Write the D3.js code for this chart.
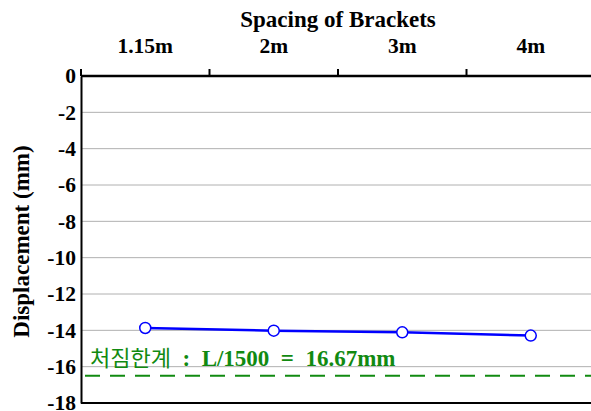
<!DOCTYPE html>
<html>
<head>
<meta charset="utf-8">
<script src="https://cdn.jsdelivr.net/npm/d3@7"></script>
<style>
  body { margin: 0; background: #fff; }
  svg text { font-family: "Liberation Serif", "Times New Roman", serif; font-weight: bold; }
</style>
</head>
<body>
<script>
// chart data
const categories = ['1.15m', '2m', '3m', '4m'];
const displacement = [-13.87, -14.02, -14.11, -14.29];
const yTicks = [0, -2, -4, -6, -8, -10, -12, -14, -16, -18];
const limitValue = -16.5;
const limitLabel = '처짐한계 : L/1500 = 16.67mm';

const width = 591;
const height = 411;
const margin = { top: 76, right: -4, bottom: 8, left: 81 };

const svg = d3.select('body').append('svg')
    .attr('width', width)
    .attr('height', height);

const x = d3.scaleBand()
    .domain(categories)
    .range([margin.left, width - margin.right]);

const y = d3.scaleLinear()
    .domain([0, -18])
    .range([margin.top, height - margin.bottom]);

// horizontal grid lines
svg.append('g')
    .selectAll('line')
    .data(yTicks.filter(d => d !== 0 && d !== -18))
    .enter().append('line')
    .attr('x1', margin.left)
    .attr('x2', width)
    .attr('y1', d => y(d))
    .attr('y2', d => y(d))
    .attr('stroke', '#b0b0b0')
    .attr('stroke-width', 1);

// left axis
const yAxis = svg.append('g')
    .attr('transform', `translate(${margin.left},0)`)
    .call(d3.axisLeft(y).tickValues(yTicks).tickSize(0).tickPadding(5).tickFormat(d => String(d)));
yAxis.select('.domain').attr('stroke', '#000').attr('stroke-width', 2);
yAxis.selectAll('text').attr('font-size', 21.5).attr('fill', '#000');

// bottom line
svg.append('line')
    .attr('x1', margin.left)
    .attr('x2', width)
    .attr('y1', y(-18))
    .attr('y2', y(-18))
    .attr('stroke', '#000')
    .attr('stroke-width', 2);

// top axis (labels at band centres, ticks at band edges)
const xAxis = svg.append('g')
    .attr('transform', `translate(0,${margin.top})`)
    .call(d3.axisTop(x).tickSize(0).tickPadding(23));
xAxis.select('.domain').remove();
xAxis.selectAll('text').attr('font-size', 21.5).attr('fill', '#000');

svg.append('line')
    .attr('x1', margin.left)
    .attr('x2', width)
    .attr('y1', y(0))
    .attr('y2', y(0))
    .attr('stroke', '#000')
    .attr('stroke-width', 2.5);

svg.append('g')
    .selectAll('line')
    .data(categories)
    .enter().append('line')
    .attr('x1', d => x(d))
    .attr('x2', d => x(d))
    .attr('y1', y(0))
    .attr('y2', y(0) - 7)
    .attr('stroke', '#000')
    .attr('stroke-width', 2);

// axis titles
svg.append('text')
    .attr('x', 338)
    .attr('y', 27)
    .attr('text-anchor', 'middle')
    .attr('font-size', 23)
    .text('Spacing of Brackets');

svg.append('text')
    .attr('transform', `translate(29,${(y(0) + y(-18)) / 2 + 2}) rotate(-90)`)
    .attr('text-anchor', 'middle')
    .attr('font-size', 23)
    .text('Displacement (mm)');

// limit line
svg.append('line')
    .attr('x1', margin.left + 4)
    .attr('x2', width)
    .attr('y1', y(limitValue))
    .attr('y2', y(limitValue))
    .attr('stroke', '#118a11')
    .attr('stroke-width', 2)
    .attr('stroke-dasharray', '15,10');

const lbl = svg.append('text')
    .attr('x', 90)
    .attr('y', y(limitValue) - 10)
    .attr('font-size', 23)
    .attr('fill', '#118a11');
lbl.append('tspan')
    .style('font-family', '"Noto Sans CJK KR", sans-serif')
    .style('font-weight', 'normal')
    .attr('font-size', 22)
    .text(limitLabel.split(' : ')[0]);
lbl.append('tspan').text('\u00a0 :\u00a0 ' + limitLabel.split(' : ')[1].replace(' = ', '\u00a0 =\u00a0 '));

// data line and markers
const pts = categories.map((c, i) => ({ c: c, v: displacement[i] }));
const line = d3.line()
    .x(d => x(d.c) + x.bandwidth() / 2)
    .y(d => y(d.v));

svg.append('path')
    .datum(pts)
    .attr('d', line)
    .attr('fill', 'none')
    .attr('stroke', '#0000ff')
    .attr('stroke-width', 2.5);

svg.selectAll('circle')
    .data(pts)
    .enter().append('circle')
    .attr('cx', d => x(d.c) + x.bandwidth() / 2)
    .attr('cy', d => y(d.v))
    .attr('r', 5.5)
    .attr('fill', '#fff')
    .attr('stroke', '#0000ff')
    .attr('stroke-width', 1.5);
</script>
</body>
</html>
